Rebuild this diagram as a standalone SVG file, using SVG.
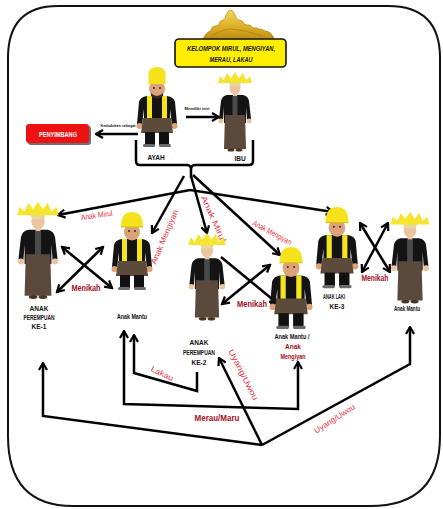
<svg xmlns="http://www.w3.org/2000/svg" width="443" height="509" viewBox="0 0 443 509">
<defs>
<style>
.ln{fill:none;stroke:#000;stroke-width:2.5;stroke-linejoin:miter}
.arr{marker-end:url(#ah)}
.sta{marker-start:url(#ah)}
.dbl{marker-start:url(#ah);marker-end:url(#ah)}
text{font-family:"Liberation Sans Narrow","Liberation Sans",Arial,sans-serif}
.nl{font-weight:bold;font-size:6.5px;fill:#111;text-anchor:middle}
.tiny{font-size:3.6px;font-weight:bold;fill:#111;text-anchor:middle}
.red{fill:#e8303f;font-size:8px;text-anchor:middle}
.dred{fill:#a3101c;font-weight:bold;text-anchor:middle}
.skin{fill:#dca27a}
.fskin{fill:#ecc4a0}
</style>
<linearGradient id="gold" x1="0" y1="0" x2="0" y2="1">
<stop offset="0" stop-color="#f6d95a"/>
<stop offset="0.6" stop-color="#d8a922"/>
<stop offset="1" stop-color="#b78412"/>
</linearGradient>
<marker id="ah" viewBox="0 0 10 10" refX="8.5" refY="5" markerWidth="4" markerHeight="4" orient="auto-start-reverse" markerUnits="strokeWidth">
<path d="M1.5,1 L8.5,5 L1.5,9" fill="none" stroke="#000" stroke-width="2.2"/>
</marker>
<!-- man in black jacket with yellow sash and brown tumpal -->
<g id="man">
<path d="M-10,28 L10,28 Q17,29 18,34 L20,56 L15,57 L13,41 L13,58 L-13,58 L-13,41 L-15,57 L-20,56 L-18,34 Q-17,29 -10,28 Z" fill="#141414"/>
<rect x="-10" y="28" width="5" height="27" fill="#f4e41e"/>
<rect x="5" y="28" width="5" height="27" fill="#f4e41e"/>
<circle cx="-17.5" cy="58" r="3" class="skin"/>
<circle cx="17.5" cy="58" r="3" class="skin"/>
<path d="M-14,50 L14,50 L16,65 L-16,65 Z" fill="#5c4a3a"/>
<rect x="-12" y="64" width="10" height="13" fill="#111"/>
<rect x="2" y="64" width="10" height="13" fill="#111"/>
<rect x="-14" y="76" width="12" height="3" rx="1.5" fill="#6a6a6a"/>
<rect x="2" y="76" width="12" height="3" rx="1.5" fill="#6a6a6a"/>
<ellipse cx="0" cy="21" rx="8" ry="8.5" class="skin"/>
<circle cx="-3" cy="20" r="0.9" fill="#222"/>
<circle cx="3" cy="20" r="0.9" fill="#222"/>
</g>
<g id="hat-tall">
<path d="M-8.5,16 L-8.5,6 Q-8.5,-1 0,-1 Q8.5,-1 8.5,6 L8.5,16 Z" fill="#f5e21c"/>
<path d="M-6,25 Q0,31 6,25 L6,28 Q0,33 -6,28 Z" fill="#3a2a1e"/>
</g>
<g id="hat-round">
<path d="M-11,16 C-11,4 -6,1 0,1 C6,1 11,4 11,16 Z" fill="#f5e21c"/>
<path d="M-11,16 L11,16" stroke="#d6c010" stroke-width="1"/>
</g>
<!-- woman in black kebaya, brown skirt and siger crown -->
<g id="woman">
<path d="M-8,22 L8,22 Q13,23 14,28 L16,46 L12,47 L11,34 L11,50 L-11,50 L-11,34 L-12,47 L-16,46 L-14,28 Q-13,23 -8,22 Z" fill="#141414"/>
<rect x="-2.5" y="23" width="5" height="22" fill="#4a4a4a"/>
<circle cx="-14" cy="48" r="2.5" class="fskin"/>
<circle cx="14" cy="48" r="2.5" class="fskin"/>
<path d="M-10,42 L10,42 L11,76 L-11,76 Z" fill="#5b4a3b"/>
<ellipse cx="-4" cy="77" rx="3.5" ry="1.6" fill="#4a3320"/>
<ellipse cx="4" cy="77" rx="3.5" ry="1.6" fill="#4a3320"/>
<rect x="-2" y="19" width="4" height="4" class="fskin"/>
<ellipse cx="0" cy="15" rx="5.5" ry="6.5" class="fskin"/>
<ellipse cx="0" cy="10.5" rx="6" ry="3" fill="#e9d79a"/>
<path d="M-17,10 L-15,3 L-11,7 L-8,0 L-4,5 L0,-1 L4,5 L8,0 L11,7 L15,3 L17,10 Z" fill="#f5e52e"/>
</g>
</defs>

<rect width="443" height="509" fill="#fff"/>

<!-- outer frame -->
<path d="M58,6 L388,6 Q440,6 440,58 L440,436 Q440,506 370,506 L73,506 Q8,506 8,436 L8,58 Q8,6 58,6 Z" fill="none" stroke="#111" stroke-width="2"/>

<!-- title with siger crown -->
<g id="title">
<path d="M203,42 Q203,36 207,33 Q210,31 211,30 Q212,26 215,26 Q218,26 219,24 Q220,20 223,20 Q226,19 226,15 Q228,10 231,10 Q234,11 235,15 Q236,19 239,20 Q243,20 244,24 Q246,25 249,25 Q252,26 253,28 Q257,27 259,29 Q263,29 265,31 Q270,31 272,35 Q275,38 274,42 Z" fill="url(#gold)" stroke="#a87a10" stroke-width="0.6"/>
<path d="M212,36 Q220,30 231,29 Q244,30 262,36" fill="none" stroke="#b9860f" stroke-width="1"/>
<rect x="175" y="39" width="111" height="28" rx="4" fill="#ffee00" stroke="#111" stroke-width="1.6"/>
<text x="231" y="51" font-size="7px" font-weight="bold" font-style="italic" text-anchor="middle" fill="#111" textLength="88" lengthAdjust="spacingAndGlyphs">KELOMPOK MIRUL, MENGIYAN,</text>
<text x="231" y="62" font-size="7px" font-weight="bold" font-style="italic" text-anchor="middle" fill="#111" textLength="43" lengthAdjust="spacingAndGlyphs">MERAU, LAKAU</text>
</g>

<g id="penyimbang">
<rect x="28" y="126" width="63" height="19" rx="3" fill="#333" opacity="0.7"/>
<rect x="26" y="124" width="63" height="19" rx="3" fill="#ee1111"/>
<text x="58" y="136.5" font-size="6.5px" font-weight="bold" fill="#fff" text-anchor="middle" textLength="38" lengthAdjust="spacingAndGlyphs">PENYIMBANG</text>
</g>

<!-- connectors -->
<g id="connectors">
<path class="ln arr" d="M186,117 L219,117"/>
<text class="tiny" x="197" y="110" textLength="25" lengthAdjust="spacingAndGlyphs">Memiliki istri</text>
<path class="ln arr" d="M138,134 L96,134"/>
<text class="tiny" x="118" y="127" textLength="35" lengthAdjust="spacingAndGlyphs">Kedudukan sebagai</text>
<path class="ln" d="M136,140 L136,161 Q136,165 140,165 L187,165 Q191,165 191,170 M191,170 Q191,165 195,165 L249,165 Q253,165 253,161 L253,140 M191,169 L191,178"/>
<path class="ln arr" d="M190,190 L58,215"/>
<path class="ln arr" d="M190,190 L333,212"/>
<path class="ln arr" d="M184,176 L152,233"/>
<path class="ln arr" d="M191,176 L207,233"/>
<path class="ln arr" d="M193,175 L280,255"/>
<path class="ln dbl" d="M62,247 L112,288"/>
<path class="ln dbl" d="M103,247 L57,292"/>
<path class="ln dbl" d="M222,304 L270,265"/>
<path class="ln arr" d="M221,257 L277,303"/>
<path class="ln dbl" d="M360,223 L390,272"/>
<path class="ln dbl" d="M388,223 L362,272"/>
<path class="ln arr" d="M262,445 L43,416 L43,363"/>
<path class="ln arr" d="M262,445 L219,358"/>
<path class="ln arr" d="M262,445 L410,364 L410,327"/>
<path class="ln sta arr" d="M124,331 L124,404 L298,409 L298,362"/>
<path class="ln sta" d="M134,335 L134,373 L197,391 L197,372"/>

<text class="red" x="97" y="218" transform="rotate(-8 97 218)" textLength="32" lengthAdjust="spacingAndGlyphs">Anak Mirul</text>
<text class="red" x="167" y="238" transform="rotate(-67 167 238)" textLength="58" lengthAdjust="spacingAndGlyphs">Anak Mengiyan</text>
<text class="red" x="211" y="220" font-size="10px" transform="rotate(66 211 220)" textLength="50" lengthAdjust="spacingAndGlyphs">Anak Mirul</text>
<text class="red" x="271" y="235" font-size="7px" transform="rotate(28 271 235)" textLength="43" lengthAdjust="spacingAndGlyphs">Anak Mengiyan</text>
<text class="dred" x="86" y="291" font-size="8.5px" textLength="29" lengthAdjust="spacingAndGlyphs">Menikah</text>
<text class="dred" x="252" y="307" font-size="8.5px" textLength="30" lengthAdjust="spacingAndGlyphs">Menikah</text>
<text class="dred" x="375" y="281" font-size="8.5px" textLength="27" lengthAdjust="spacingAndGlyphs">Menikah</text>
<text class="red" x="161" y="376" transform="rotate(26 161 376)" textLength="24" lengthAdjust="spacingAndGlyphs">Lakau</text>
<text class="dred" x="217" y="421" font-size="9.5px" font-weight="normal" textLength="45" lengthAdjust="spacingAndGlyphs">Merau/Maru</text>
<text class="red" x="241" y="376" font-size="8.5px" transform="rotate(63 241 376)" textLength="56" lengthAdjust="spacingAndGlyphs">Uyang/Uwou</text>
<text class="red" x="336" y="421" transform="rotate(-33 336 421)" textLength="47" lengthAdjust="spacingAndGlyphs">Uyang/Uwou</text>
</g>

<!-- figures -->
<g id="ayah">
<use href="#man" transform="translate(157,68)"/>
<use href="#hat-tall" transform="translate(157,68)"/>
<text class="nl" x="156" y="160" font-size="8px">AYAH</text>
</g>
<g id="ibu">
<use href="#woman" transform="translate(235,73)"/>
<text class="nl" x="240" y="161" font-size="7px">IBU</text>
</g>
<g id="anak-perempuan-1">
<use href="#woman" transform="translate(38,203) scale(1.22)"/>
<text class="nl" x="39" y="311">ANAK</text>
<text class="nl" x="39" y="320" textLength="31" lengthAdjust="spacingAndGlyphs">PEREMPUAN</text>
<text class="nl" x="39" y="329">KE-1</text>
</g>
<g id="anak-mantu-1">
<use href="#man" transform="translate(132,211)"/>
<use href="#hat-round" transform="translate(132,211)"/>
<text class="nl" x="132" y="319" font-weight="normal" textLength="30" lengthAdjust="spacingAndGlyphs">Anak Mantu</text>
</g>
<g id="anak-perempuan-2">
<use href="#woman" transform="translate(207,234) scale(1.1)"/>
<text class="nl" x="199" y="345">ANAK</text>
<text class="nl" x="199" y="355" textLength="32" lengthAdjust="spacingAndGlyphs">PEREMPUAN</text>
<text class="nl" x="199" y="365">KE-2</text>
</g>
<g id="anak-mantu-2">
<use href="#man" transform="translate(291,246) scale(1.05)"/>
<use href="#hat-round" transform="translate(291,246) scale(1.05)"/>
<text class="nl" x="292" y="339" font-weight="normal" textLength="35" lengthAdjust="spacingAndGlyphs">Anak Mantu /</text>
<text class="nl" x="293" y="349" style="fill:#a3101c" font-weight="normal">Anak</text>
<text class="nl" x="293" y="359" style="fill:#a3101c" font-weight="normal" textLength="25" lengthAdjust="spacingAndGlyphs">Mengiyan</text>
</g>
<g id="anak-laki-3">
<use href="#man" transform="translate(337,206) scale(1.04)"/>
<use href="#hat-round" transform="translate(337,206) scale(1.04)"/>
<text class="nl" x="334" y="299" textLength="22" lengthAdjust="spacingAndGlyphs">ANAK LAKI</text>
<text class="nl" x="337" y="309">KE-3</text>
</g>
<g id="anak-mantu-3">
<use href="#woman" transform="translate(410,213) scale(1.15)"/>
<text class="nl" x="407" y="311" font-weight="normal" textLength="26" lengthAdjust="spacingAndGlyphs">Anak Mantu</text>
</g>
</svg>
